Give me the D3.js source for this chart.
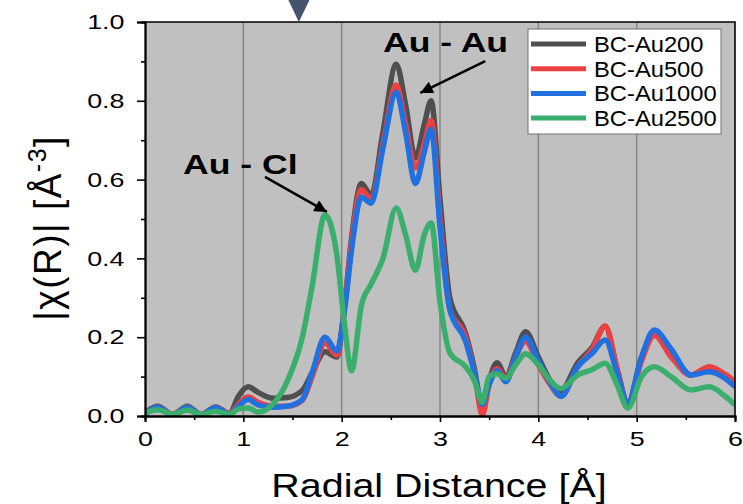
<!DOCTYPE html>
<html>
<head>
<meta charset="utf-8">
<script src="https://cdn.jsdelivr.net/npm/d3@7"></script>
<style>
  body { margin: 0; background: #fff; }
  svg text { font-family: "Liberation Sans", Arial, sans-serif; fill: #000; }
  .tick line { stroke: #000; stroke-width: 1.6; }
  .domain { stroke: #000; stroke-width: 1.8; }
</style>
</head>
<body>
<svg id="chart" width="743" height="504"></svg>
<script>
// data
const radius = [0, 0.13, 0.28, 0.43, 0.57, 0.72, 0.86, 0.95, 1.05, 1.15, 1.3, 1.45, 1.6, 1.7, 1.83, 1.95,
  2.03, 2.1, 2.2, 2.3, 2.42, 2.555, 2.65, 2.75, 2.84, 2.91, 3.0, 3.1, 3.26, 3.35, 3.43, 3.5, 3.58, 3.67,
  3.77, 3.87, 4.0, 4.12, 4.23, 4.4, 4.55, 4.68, 4.8, 4.91, 5.05, 5.18, 5.35, 5.55, 5.74, 5.9, 6.0];

const au200 = [0.008, 0.025, 0.004, 0.025, 0.004, 0.023, 0.006, 0.05, 0.074, 0.06, 0.045, 0.047, 0.065, 0.11, 0.163, 0.15,
  0.28, 0.45, 0.59, 0.56, 0.72, 0.893, 0.79, 0.655, 0.74, 0.80, 0.55, 0.30, 0.21, 0.12, 0.02, 0.09, 0.135, 0.10,
  0.16, 0.214, 0.15, 0.09, 0.065, 0.135, 0.175, 0.228, 0.12, 0.033, 0.15, 0.205, 0.16, 0.104, 0.12, 0.105, 0.086];

const au500 = [0.006, 0.022, 0.004, 0.022, 0.004, 0.021, 0.006, 0.03, 0.048, 0.035, 0.025, 0.025, 0.04, 0.10, 0.185, 0.155,
  0.28, 0.44, 0.575, 0.55, 0.69, 0.84, 0.74, 0.63, 0.69, 0.75, 0.50, 0.27, 0.20, 0.11, 0.003, 0.08, 0.12, 0.095,
  0.15, 0.19, 0.13, 0.08, 0.05, 0.125, 0.17, 0.228, 0.12, 0.033, 0.14, 0.205, 0.15, 0.104, 0.125, 0.105, 0.086];

const au1000 = [0.005, 0.022, 0.003, 0.022, 0.003, 0.021, 0.004, 0.025, 0.042, 0.028, 0.022, 0.025, 0.042, 0.11, 0.20, 0.165,
  0.27, 0.42, 0.555, 0.54, 0.68, 0.822, 0.72, 0.59, 0.67, 0.728, 0.48, 0.27, 0.19, 0.11, 0.03, 0.08, 0.115, 0.087,
  0.15, 0.20, 0.14, 0.085, 0.05, 0.125, 0.16, 0.193, 0.11, 0.033, 0.15, 0.218, 0.17, 0.104, 0.112, 0.095, 0.074];

const au2500 = [0.008, 0.016, 0.004, 0.015, 0.004, 0.012, 0.004, 0.018, 0.02, 0.01, 0.03, 0.09, 0.20, 0.33, 0.51, 0.41,
  0.23, 0.115, 0.28, 0.335, 0.40, 0.528, 0.46, 0.37, 0.46, 0.49, 0.29, 0.16, 0.125, 0.09, 0.035, 0.10, 0.107, 0.096,
  0.13, 0.158, 0.13, 0.09, 0.07, 0.104, 0.118, 0.134, 0.08, 0.02, 0.10, 0.125, 0.10, 0.066, 0.074, 0.05, 0.028];

const seriesNames = ["BC-Au200", "BC-Au500", "BC-Au1000", "BC-Au2500"];
const seriesValues = [au200, au500, au1000, au2500];
const seriesColours = ["#4f4f4f", "#ee4040", "#2170e0", "#3aae6c"];

const xTicks = [0, 1, 2, 3, 4, 5, 6];
const xMinorTicks = [0.5, 1.5, 2.5, 3.5, 4.5, 5.5];
const yTicks = [0, 0.2, 0.4, 0.6, 0.8, 1.0];
const yMinorTicks = [0.1, 0.3, 0.5, 0.7, 0.9];
const gridR = [1, 2, 3, 4, 5];
const markerR = 1.565;

const annotations = [
  {label: "Au - Au", tx: 383, ty: 52, from: [3.46, 0.901], to: [2.8, 0.82]},
  {label: "Au - Cl", tx: 183, ty: 174, from: [1.22, 0.607], to: [1.85, 0.518]}
];

// setup
const svg = d3.select("#chart");
const margin = {top: 22, right: 8, bottom: 88, left: 145};
const width = 743, height = 504;

const x = d3.scaleLinear().domain([0, 6]).range([margin.left, width - margin.right]);
const y = d3.scaleLinear().domain([0, 1]).range([height - margin.bottom, margin.top]);

const defs = svg.append("defs");
defs.append("clipPath").attr("id", "plotClip")
  .append("rect")
    .attr("x", x(0)).attr("y", y(1))
    .attr("width", x(6) - x(0)).attr("height", y(0) - y(1));

// plot background and grid
svg.append("rect")
  .attr("x", x(0)).attr("y", y(1))
  .attr("width", x(6) - x(0)).attr("height", y(0) - y(1))
  .attr("fill", "#c0c0c0");

svg.selectAll("line.grid")
  .data(gridR)
    .enter()
  .append("line")
    .attr("class", "grid")
    .attr("x1", d => x(d)).attr("x2", d => x(d))
    .attr("y1", y(1)).attr("y2", y(0))
    .attr("stroke", "#878787")
    .attr("stroke-width", 1.5);

// curves
const line = d3.line()
  .x((d, i) => x(radius[i]))
  .y(d => y(d))
  .curve(d3.curveMonotoneX);

svg.append("g").attr("clip-path", "url(#plotClip)")
  .selectAll("path.series")
  .data(seriesValues)
    .enter()
  .append("path")
    .attr("class", "series")
    .attr("d", line)
    .attr("fill", "none")
    .attr("stroke", (d, i) => seriesColours[i])
    .attr("stroke-width", 5.5)
    .attr("stroke-linejoin", "round");

// box top and right
svg.append("path")
  .attr("d", `M${x(0)},${y(1)}H${x(6)}V${y(0)}`)
  .attr("fill", "none")
  .attr("stroke", "#000")
  .attr("stroke-width", 1.6);

// axes
svg.append("g")
  .attr("transform", `translate(0,${y(0)})`)
  .call(d3.axisBottom(x).tickValues(xMinorTicks).tickSize(4).tickFormat(""));
svg.append("g")
  .attr("class", "major")
  .attr("transform", `translate(0,${y(0)})`)
  .call(d3.axisBottom(x).tickValues(xTicks).tickSize(6).tickPadding(9).tickFormat(d3.format("d")));

svg.append("g")
  .attr("transform", `translate(${x(0)},0)`)
  .call(d3.axisLeft(y).tickValues(yMinorTicks).tickSize(4).tickFormat(""));
svg.append("g")
  .attr("class", "major")
  .attr("transform", `translate(${x(0)},0)`)
  .call(d3.axisLeft(y).tickValues(yTicks).tickSize(8).tickPadding(8).tickFormat(d3.format(".1f")));

svg.selectAll(".major .tick text")
  .attr("font-family", "Liberation Sans, Arial, sans-serif")
  .attr("font-size", 21)
  .attr("transform", "scale(1.28,1)");

// axis titles
svg.append("text")
  .attr("transform", `translate(${(x(0) + x(6)) / 2 - 1},497) scale(1.16,1)`)
  .attr("text-anchor", "middle")
  .attr("font-size", 34)
  .text("Radial Distance [Å]");

const yTitle = svg.append("text")
  .attr("transform", "translate(61,228) rotate(-90) scale(1,1.05)")
  .attr("text-anchor", "middle")
  .attr("font-size", 37)
  .attr("letter-spacing", 1.5);
yTitle.append("tspan").text("|χ(R)| [Å");
yTitle.append("tspan").attr("font-size", 25).attr("dy", -14).text("-3");
yTitle.append("tspan").attr("dy", 14).text("]");

// annotations
defs.append("marker")
  .attr("id", "arrow")
  .attr("viewBox", "0 0 10 10")
  .attr("refX", 10).attr("refY", 5)
  .attr("markerWidth", 6).attr("markerHeight", 5)
  .attr("markerUnits", "strokeWidth")
  .attr("orient", "auto")
  .append("path").attr("d", "M0,0L10,5L0,10z").attr("fill", "#000");

svg.selectAll("text.annot")
  .data(annotations)
    .enter()
  .append("text")
    .attr("class", "annot")
    .attr("transform", d => `translate(${d.tx},${d.ty}) scale(1.27,1)`)
    .attr("font-size", 28)
    .attr("font-weight", "bold")
    .text(d => d.label);

svg.selectAll("line.arrow")
  .data(annotations)
    .enter()
  .append("line")
    .attr("class", "arrow")
    .attr("x1", d => x(d.from[0])).attr("y1", d => y(d.from[1]))
    .attr("x2", d => x(d.to[0])).attr("y2", d => y(d.to[1]))
    .attr("stroke", "#000")
    .attr("stroke-width", 2.5)
    .attr("marker-end", "url(#arrow)");

// top marker
svg.append("path")
  .attr("d", `M${x(markerR) - 11.5},-2L${x(markerR) + 11.5},-2L${x(markerR)},${y(1)}Z`)
  .attr("fill", "#44536e");

// legend
const legend = svg.append("g").attr("transform", "translate(528,29)");
legend.append("rect")
  .attr("width", 193).attr("height", 105)
  .attr("fill", "#fff")
  .attr("stroke", "#707070")
  .attr("stroke-width", 1);

const rows = legend.selectAll("g.row")
  .data(seriesNames)
    .enter()
  .append("g")
    .attr("class", "row")
    .attr("transform", (d, i) => `translate(0,${15 + i * 24.7})`);
rows.append("line")
  .attr("x1", 3).attr("x2", 58)
  .attr("stroke", (d, i) => seriesColours[i])
  .attr("stroke-width", 5);
rows.append("text")
  .attr("transform", "translate(66,8) scale(1.08,1)")
  .attr("font-size", 22)
  .text(d => d);
</script>
</body>
</html>
